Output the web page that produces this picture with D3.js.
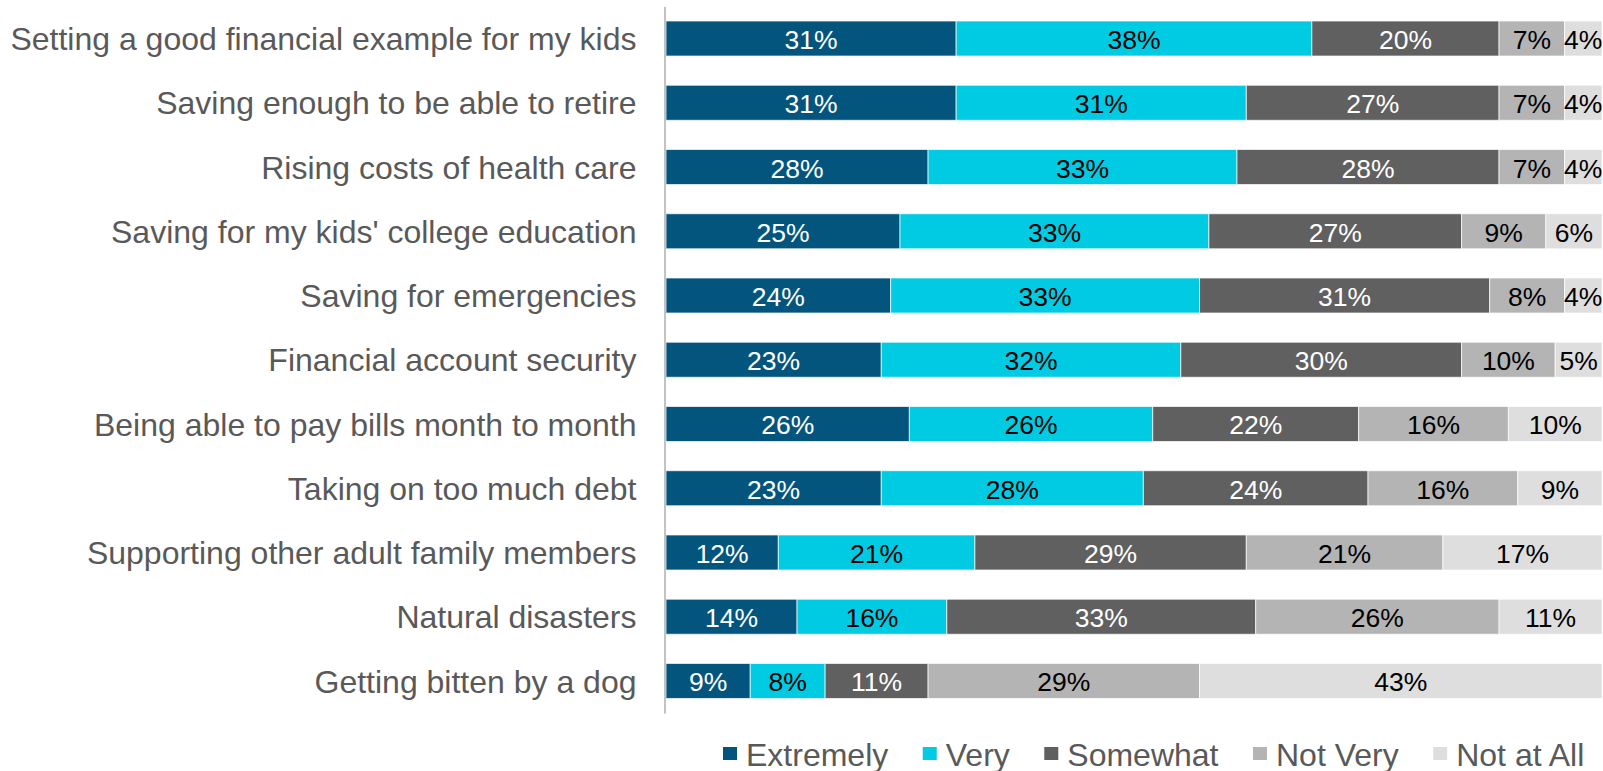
<!DOCTYPE html>
<html>
<head>
<meta charset="utf-8">
<script src="https://cdn.jsdelivr.net/npm/d3@7"></script>
<style>
  html, body { margin: 0; padding: 0; background: #ffffff; }
  svg { display: block; font-family: "Liberation Sans", Arial, sans-serif; }
</style>
</head>
<body>
<svg id="chart" width="1603" height="771"></svg>
<script>
// Survey concerns, share of respondents by level of worry
const categories = [
  "Setting a good financial example for my kids",
  "Saving enough to be able to retire",
  "Rising costs of health care",
  "Saving for my kids' college education",
  "Saving for emergencies",
  "Financial account security",
  "Being able to pay bills month to month",
  "Taking on too much debt",
  "Supporting other adult family members",
  "Natural disasters",
  "Getting bitten by a dog"
];

const seriesNames = ["Extremely", "Very", "Somewhat", "Not Very", "Not at All"];

const extremely = [31, 31, 28, 25, 24, 23, 26, 23, 12, 14, 9];
const very      = [38, 31, 33, 33, 33, 32, 26, 28, 21, 16, 8];
const somewhat  = [20, 27, 28, 27, 31, 30, 22, 24, 29, 33, 11];
const notVery   = [7, 7, 7, 9, 8, 10, 16, 16, 21, 26, 29];
const notAtAll  = [4, 4, 4, 6, 4, 5, 10, 9, 17, 11, 43];

const seriesColors = ["#03557e", "#00cbe2", "#606060", "#b4b4b4", "#dedede"];
const labelColors  = ["#ffffff", "#000000", "#ffffff", "#000000", "#000000"];

// Build rows for the stack layout
const rows = categories.map((c, i) => ({
  category: c,
  "Extremely": extremely[i],
  "Very": very[i],
  "Somewhat": somewhat[i],
  "Not Very": notVery[i],
  "Not at All": notAtAll[i]
}));

const stacked = d3.stack().keys(seriesNames)(rows);

const svg = d3.select("#chart");

const axisX = 664.5;
const x = d3.scaleLinear().domain([0, 100]).range([666, 1602]);
const y = d3.scaleBand()
  .domain(categories)
  .range([6.4, 713.1])
  .paddingInner(0.455)
  .paddingOuter(0.2275);

const color = d3.scaleOrdinal().domain(seriesNames).range(seriesColors);
const labelColor = d3.scaleOrdinal().domain(seriesNames).range(labelColors);

// Stacked segments
const layers = svg.append("g")
  .selectAll("g")
  .data(stacked)
  .join("g")
  .attr("fill", d => color(d.key));

layers.selectAll("rect")
  .data(d => d.map(v => Object.assign(v, { key: d.key })))
  .join("rect")
  .attr("x", d => x(d[0]))
  .attr("y", d => y(d.data.category))
  .attr("width", d => x(d[1]) - x(d[0]))
  .attr("height", y.bandwidth())
  .attr("stroke", "#ffffff")
  .attr("stroke-opacity", 0.7)
  .attr("stroke-width", 1);

// Value labels centred in each segment
layers.selectAll("text")
  .data(d => d)
  .join("text")
  .attr("x", d => (x(d[0]) + x(d[1])) / 2)
  .attr("y", d => y(d.data.category) + y.bandwidth() / 2 + 10.5)
  .attr("text-anchor", "middle")
  .attr("font-size", "26.5px")
  .attr("fill", d => labelColor(d.key))
  .text(d => (d[1] - d[0]) + "%");

// Category axis on the left
const yAxis = d3.axisLeft(y).tickSize(0).tickPadding(28);
const gAxis = svg.append("g")
  .attr("transform", `translate(${axisX},0)`)
  .call(yAxis);
gAxis.select(".domain")
  .attr("stroke", "#868686")
  .attr("stroke-width", 1);
gAxis.selectAll(".tick text")
  .attr("font-size", "32px")
  .attr("font-family", "'Liberation Sans', Arial, sans-serif")
  .attr("fill", "#595959")
  .attr("dy", "0.36em");

// Legend along the bottom
const legend = svg.append("g").attr("transform", "translate(723,747)");
let lx = 0;
seriesNames.forEach((name, i) => {
  const item = legend.append("g").attr("transform", `translate(${lx},0)`);
  item.append("rect")
    .attr("width", 14)
    .attr("height", 13)
    .attr("fill", color(name));
  const t = item.append("text")
    .attr("x", 23)
    .attr("y", 18.5)
    .attr("font-size", "32px")
    .attr("fill", "#595959")
    .text(name);
  const w = t.node().getComputedTextLength();
  lx += 23 + w + 34.5;
});
</script>
</body>
</html>
